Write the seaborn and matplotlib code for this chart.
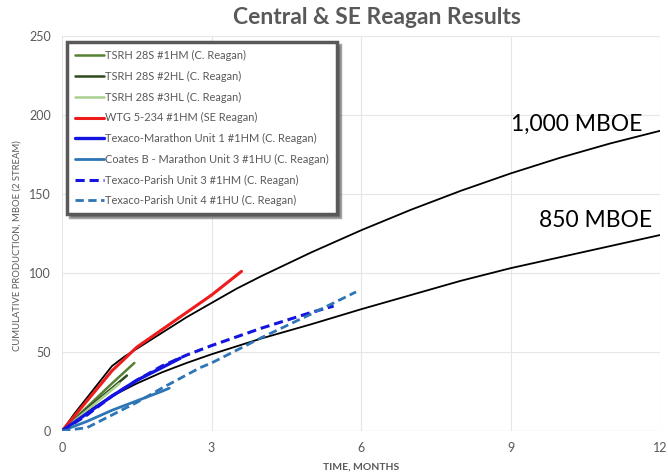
import numpy as np
import pandas as pd
import matplotlib
matplotlib.use("Agg")
import matplotlib.pyplot as plt
import seaborn as sns

# ---- data ----
tc_months = [0, 0.25, 0.5, 0.75, 1, 1.25, 1.5, 2, 2.5, 3, 3.5, 4, 5, 6, 7, 8, 9, 10, 11, 12]
tc_1000 = [0, 11, 21, 31, 41, 47, 52, 62, 72, 81, 90, 98, 113, 127, 140, 152, 163, 173, 182, 190]
tc_850 = [0, 6, 12, 17, 22, 26, 30, 37, 43, 48.5, 53.5, 58.5, 67.5, 77, 86, 95, 103, 110, 117, 124]

tsrh1_x = [0, 0.5, 1.0, 1.45]
tsrh1_y = [0, 15, 30, 43]
tsrh2_x = [0, 0.5, 1.0, 1.3]
tsrh2_y = [0, 14, 27, 35]
tsrh3_x = [0, 0.5, 1.0, 1.15]
tsrh3_y = [0, 13, 26, 30]
wtg_x = [0, 0.5, 1, 1.5, 2, 2.5, 3, 3.6]
wtg_y = [0, 19, 38, 53, 64, 75, 86, 101]
tm1_x = [0, 0.5, 1, 1.5, 2, 2.37]
tm1_y = [0, 11, 22, 32, 40, 46]
coates_x = [0, 0.5, 1, 1.5, 2, 2.15]
coates_y = [0, 6, 13, 19, 25, 27]
tp3_x = [0, 0.5, 1, 1.5, 2, 2.5, 3, 4, 5, 5.45]
tp3_y = [0, 10, 22, 32, 41, 48, 54, 65, 75, 79]
tp4_x = [0, 0.5, 1, 1.5, 2, 2.77, 3, 4, 5, 5.9]
tp4_y = [0, 2, 10, 18, 27, 40, 43, 59, 74, 88]

series = [
    ("TSRH 28S #1HM (C. Reagan)", tsrh1_x, tsrh1_y, "#548235", "-", 1.8),
    ("TSRH 28S #2HL (C. Reagan)", tsrh2_x, tsrh2_y, "#2f4a1e", "-", 1.8),
    ("TSRH 28S #3HL (C. Reagan)", tsrh3_x, tsrh3_y, "#a9d08e", "-", 1.8),
    ("WTG 5-234 #1HM (SE Reagan)", wtg_x, wtg_y, "#ee1c1c", "-", 2.2),
    ("Texaco-Marathon Unit 1 #1HM (C. Reagan)", tm1_x, tm1_y, "#1414e0", "-", 2.4),
    ("Coates B - Marathon Unit 3 #1HU (C. Reagan)", coates_x, coates_y, "#2e75b6", "-", 2.0),
    ("Texaco-Parish Unit 3 #1HM (C. Reagan)", tp3_x, tp3_y, "#1414e0", (0, (3, 1.6)), 2.2),
    ("Texaco-Parish Unit 4 #1HU (C. Reagan)", tp4_x, tp4_y, "#2e75b6", (0, (3, 1.6)), 2.0),
]

sns.set_theme(style="white")
plt.rcParams['font.family'] = ['Lato', 'DejaVu Sans']

fig = plt.figure(figsize=(6.68, 4.75), dpi=100)
ax = fig.add_axes([0.093, 0.093, 0.895, 0.831])

sns.lineplot(x=tc_months, y=tc_1000, ax=ax, color="black", linewidth=1.3, legend=False)
sns.lineplot(x=tc_months, y=tc_850, ax=ax, color="black", linewidth=1.3, legend=False)

for name, xs, ys, col, ls, lw in series:
    sns.lineplot(x=xs, y=ys, ax=ax, color=col, linewidth=lw, linestyle=ls, label=name)

ax.set_xlim(0, 12)
ax.set_ylim(0, 250)
ax.set_xticks([0, 3, 6, 9, 12])
ax.set_yticks([0, 50, 100, 150, 200, 250])
ax.grid(True, color="#e6e6e6", linewidth=0.8)
for s in ax.spines.values():
    s.set_visible(False)
ax.axhline(0, color="#d9d9d9", linewidth=0.8, zorder=0)
ax.tick_params(axis="both", labelsize=9, colors="#595959", length=0, pad=8)

ax.set_xlabel("TIME, MONTHS", fontsize=7.5, color="#595959", fontweight="bold", labelpad=6)
ax.set_ylabel("CUMULATIVE PRODUCTION, MBOE (2 STREAM)", fontsize=6.8, color="#595959",
              labelpad=4)
ax.yaxis.set_label_coords(-0.068, 0.47)

fig.text(0.564, 0.964, "Central & SE Reagan Results", ha="center", va="center",
         fontsize=16.5, fontweight="bold", color="#595959")

ax.text(11.65, 194, "1,000 MBOE", ha="right", va="center", fontsize=16.5, color="black")
ax.text(11.85, 133, "850 MBOE", ha="right", va="center", fontsize=16.5, color="black")

leg = ax.legend(loc="upper left", bbox_to_anchor=(0.008, 0.985), fontsize=7.9,
                frameon=True, fancybox=False, shadow=True, handlelength=2.6,
                handletextpad=0.1, labelspacing=0.88, borderpad=0.75,
                borderaxespad=0.0, labelcolor="#595959")
leg.get_frame().set_edgecolor("#595959")
leg.get_frame().set_linewidth(2.5)
leg.get_frame().set_facecolor("white")

fig.savefig("out.png", dpi=100)
